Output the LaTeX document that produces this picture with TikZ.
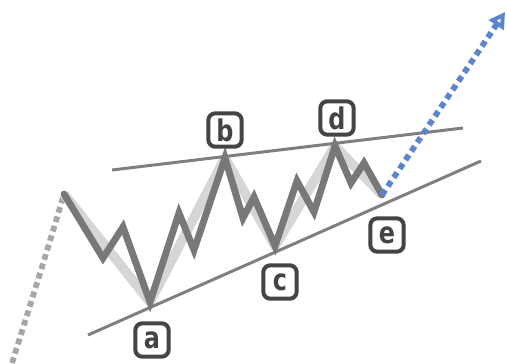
\documentclass[tikz,border=0pt]{standalone}
\usepackage{fontspec}
\setmainfont{DejaVu Sans}
\newfontfamily\tagfont[FakeStretch=0.8]{DejaVu Sans}
\definecolor{ink}{HTML}{444444}
\definecolor{wavec}{HTML}{787878}
\definecolor{palegray}{HTML}{D6D6D6}
\definecolor{trend}{HTML}{7F7F7F}
\definecolor{dotgray}{HTML}{A6A6A6}
\definecolor{blueish}{HTML}{5B86CC}
\usetikzlibrary{arrows.meta,positioning}
\tikzset{
  tag/.style={draw=ink,line width=2.3pt,rounded corners=4pt,fill=white,text=ink,
              minimum width=19pt,minimum height=19pt,inner sep=1pt,
              font=\tagfont\fontsize{17}{17}\selectfont\bfseries},
  wave/.style={wavec,line width=3.9pt,line join=miter,line cap=round},
  ghost/.style={palegray,line width=5.5pt,line join=round},
  trendln/.style={trend,line width=1.7pt},
  fade/.style={dotgray,line width=3.3pt,dash pattern=on 3.3pt off 2.3pt},
  breakout/.style={blueish,line width=3.3pt,dash pattern=on 3.4pt off 2.6pt,
                   -{Triangle[length=9pt,width=10pt,open=false]}}
}
\begin{document}
\begin{tikzpicture}[x=0.02cm,y=-0.02cm]
  \useasboundingbox (0,0) rectangle (507,363);
  % main turning points
  \coordinate (s) at (64,194);
  \coordinate (a) at (150,302);
  \coordinate (b) at (225,158);
  \coordinate (c) at (275,246);
  \coordinate (d) at (335,146);
  \coordinate (e) at (382,195);
  % trend lines
  \coordinate (u1) at (112,170);
  \coordinate (u2) at (463,128);
  \coordinate (l1) at (88,335);
  \coordinate (l2) at (481,161);
  \coordinate (f0) at (12,363);
  \coordinate (tgt) at (505,12);
  \draw[fade] (f0) .. controls (35,290) and (52,235) .. (s);
  \draw[ghost] (s) -- (a) -- (b) -- (c) -- (d) -- (e);
  \draw[trendln] (u1) -- (u2);
  \draw[trendln] (l1) -- (l2);
  \draw[wave] (s) -- (103,258) -- (123,227) -- (a) -- (179,213) -- (194,250)
    -- (b) -- (243,218) -- (254,197) -- (c) -- (297,181) -- (314,212)
    -- (d) -- (351,183) -- (364,163) -- (e);
  \draw[breakout] (e) -- (tgt);
  % labels
  \node[tag] (la) at (152,340) {a};
  \node[tag] (lb) at (225,130) {b};
  \node[tag] (lc) at (280,282) {c};
  \node[tag] (ld) at (337,118) {d};
  \node[tag] (le) at (387,235) {e};
\end{tikzpicture}
\end{document}
